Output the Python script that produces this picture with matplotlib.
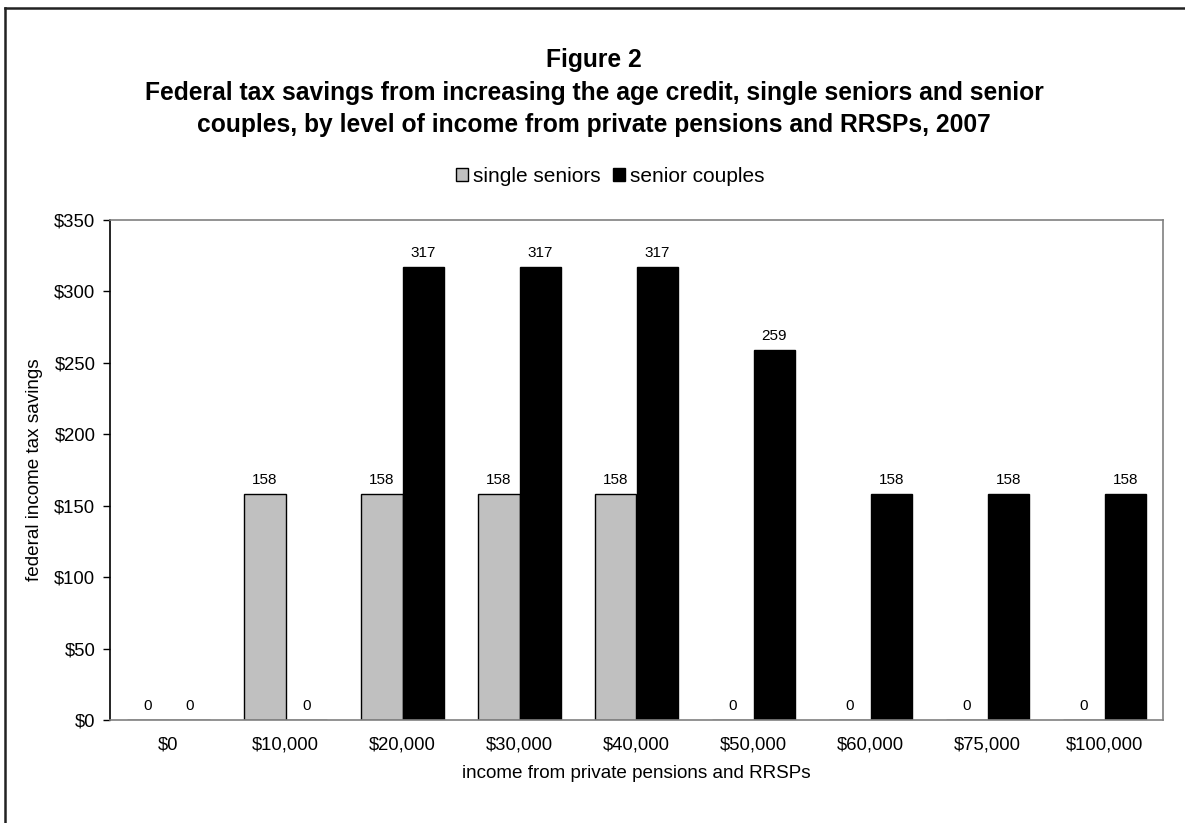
import matplotlib.pyplot as plt
import numpy as np

plt.rcParams['font.family'] = ['Liberation Sans', 'DejaVu Sans']

# donnees
categories = ["$0", "$10,000", "$20,000", "$30,000", "$40,000",
              "$50,000", "$60,000", "$75,000", "$100,000"]
single_seniors = [0, 158, 158, 158, 158, 0, 0, 0, 0]
senior_couples = [0, 0, 317, 317, 317, 259, 158, 158, 158]
yticks = [0, 50, 100, 150, 200, 250, 300, 350]

W, H = 1185, 823
fig = plt.figure(figsize=(W / 100, H / 100), dpi=100)
ax = fig.add_axes([110 / W, 1 - 720 / H, 1053 / W, 500 / H])

x = np.arange(len(categories))
w = 0.355
b1 = ax.bar(x - w / 2, single_seniors, w, color="#c0c0c0", edgecolor="black",
            linewidth=1, label="single seniors")
b2 = ax.bar(x + w / 2, senior_couples, w, color="black", edgecolor="black",
            linewidth=1, label="senior couples")

for bars, vals in [(b1, single_seniors), (b2, senior_couples)]:
    for rect, v in zip(bars, vals):
        ax.annotate(str(v), (rect.get_x() + rect.get_width() / 2, v),
                    xytext=(0, 5), textcoords="offset points",
                    ha="center", va="bottom", fontsize=11)

ax.set_xlim(-0.5, len(categories) - 0.5)
ax.set_ylim(0, 350)
ax.set_yticks(yticks)
ax.set_yticklabels(["${}".format(v) for v in yticks])
ax.set_xticks(x)
ax.set_xticklabels(categories)
ax.tick_params(axis="y", length=5, width=1, pad=5.5, labelsize=13.3)
ax.tick_params(axis="x", length=0, pad=12, labelsize=13.3)

for s in ["top", "right", "bottom"]:
    ax.spines[s].set_color("#808080")
    ax.spines[s].set_linewidth(1.2)
ax.spines["left"].set_color("black")
ax.spines["left"].set_linewidth(1.2)

ax.set_xlabel("income from private pensions and RRSPs", fontsize=13.6, labelpad=8)
fig.text(35 / W, 1 - 470 / H, "federal income tax savings", rotation=90,
         ha="center", va="center", fontsize=13.6)

# titre
titre = ["Figure 2",
         "Federal tax savings from increasing the age credit, single seniors and senior",
         "couples, by level of income from private pensions and RRSPs, 2007"]
for ligne, yy in zip(titre, [60, 93, 125]):
    fig.text(594 / W, 1 - yy / H, ligne, ha="center", va="center",
             fontsize=17.7, fontweight="bold")

ax.legend(loc="center", bbox_to_anchor=(610 / W, 1 - 176 / H),
          bbox_transform=fig.transFigure, ncol=2, frameon=False,
          fontsize=15, handlelength=0.58, handleheight=0.58,
          handletextpad=0.24, columnspacing=0.58, borderpad=0)

# cadre exterieur (gauche et haut seulement)
fig.add_artist(plt.Line2D([5 / W, 5 / W], [0, 1 - 8 / H], color="#222222",
                          linewidth=1.8, transform=fig.transFigure))
fig.add_artist(plt.Line2D([5 / W, 1], [1 - 8 / H, 1 - 8 / H], color="#222222",
                          linewidth=1.8, transform=fig.transFigure))

fig.savefig("out.png", dpi=100)
